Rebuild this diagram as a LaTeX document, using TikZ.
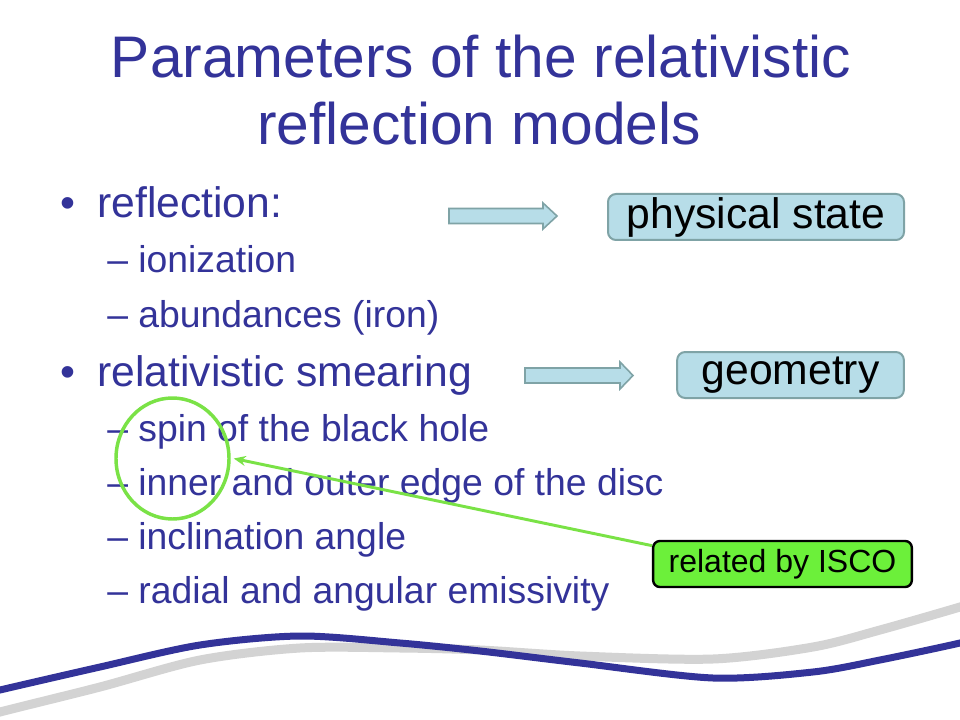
\documentclass[tikz,border=0pt]{standalone}
\usepackage{fontspec}
\setmainfont{Liberation Sans}
\usetikzlibrary{arrows.meta}
\usetikzlibrary{shapes.geometric}

\definecolor{slideblue}{HTML}{333399}
\definecolor{boxblue}{HTML}{B7DDE8}
\definecolor{boxrim}{HTML}{7FA3A6}
\definecolor{iscogreen}{HTML}{6CF03A}
\definecolor{ringgreen}{HTML}{7AE246}
\definecolor{swooshgray}{HTML}{D3D3D3}

\begin{document}
\begin{tikzpicture}[x=0.75pt,y=-0.75pt,
	title/.style={anchor=base, inner sep=0, text=slideblue, font=\fontsize{44}{50}\selectfont},
	bullet/.style={anchor=base west, inner sep=0, text=slideblue, font=\fontsize{32}{38}\selectfont},
	subbullet/.style={anchor=base west, inner sep=0, text=slideblue, font=\fontsize{28}{34}\selectfont},
	statebox/.style={draw=boxrim, fill=boxblue, line width=1.5pt, rounded corners=6pt, minimum height=34.5pt, inner sep=0, font=\fontsize{32}{38}\selectfont},
	blockarrow/.style={draw=boxrim, fill=boxblue, line width=1.2pt},
	iscobox/.style={draw=black, fill=iscogreen, line width=1.8pt, rounded corners=5pt, minimum width=194pt, minimum height=34.5pt, inner sep=0, font=\fontsize{24}{28}\selectfont},
	ringstyle/.style={draw=ringgreen, line width=2.6pt, ellipse, minimum width=84.75pt, minimum height=90.75pt, inner sep=0},
	iscolink/.style={draw=ringgreen, line width=2.2pt, -{Stealth[length=9pt,width=7.5pt]}}
]

	% slide size, white background
	\fill[white] (0,0) rectangle (960,720);
	\useasboundingbox (0,0) rectangle (960,720);

	% title, two lines
	\node[title] (title1) at (481,78) {Parameters of the relativistic};
	\node[title] (title2) at (479,145) {reflection models};

	% first bullet with its items
	\node[bullet] (dot1) at (60,218) {•};
	\node[bullet] (refl) at (97,218) {reflection:};
	\node[subbullet] (ion) at (107,273) {– ionization};
	\node[subbullet] (abund) at (107,327) {– abundances (iron)};

	% second bullet with its items
	\node[bullet] (dot2) at (60,386) {•};
	\node[bullet] (smear) at (97,386) {relativistic smearing};
	\node[subbullet] (spin) at (107,441) {– spin of the black hole};
	\node[subbullet] (edge) at (107,495) {– inner and outer edge of the disc};
	\node[subbullet] (incl) at (107,549) {– inclination angle};
	\node[subbullet] (emis) at (107,603) {– radial and angular emissivity};

	% block arrows pointing to the boxes
	\filldraw[blockarrow] (449,208.5) -- (543,208.5) -- (543,203) -- (557,216) -- (543,229) -- (543,223.5) -- (449,223.5) -- cycle;
	\filldraw[blockarrow] (525,368) -- (620,368) -- (620,362) -- (633,375.5) -- (620,389) -- (620,383) -- (525,383) -- cycle;

	% what the two groups describe
	\node[statebox, minimum width=222pt] (phys) at (756,217) {physical state};
	\node[statebox, minimum width=170pt] (geom) at (790.5,375) {geometry};

	% spin and inner edge are linked
	\node[ringstyle] (ring) at (172.5,458.5) {};
	\node[iscobox] (isco) at (782.5,564) {related by ISCO};
	\draw[iscolink] (isco.172) -- ([xshift=2.25pt]ring.east);

	% swooshes at the bottom
	\draw[swooshgray, line width=6.75pt] plot[smooth] coordinates {(-10,716) (0,712) (100,687) (200,660) (300,648) (400,648) (480,650) (580,656) (713,659) (813,647) (880,630) (960,607) (970,603)};
	\draw[slideblue, line width=5.25pt] plot[smooth] coordinates {(-10,693) (0,690) (100,667) (200,645) (300,636) (400,643) (480,651) (580,663) (713,678) (813,672) (880,660) (960,643) (970,639)};

\end{tikzpicture}
\end{document}
